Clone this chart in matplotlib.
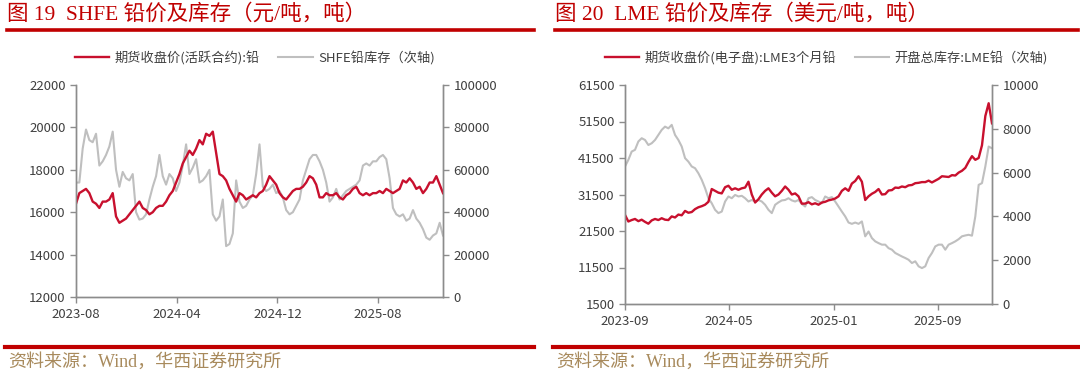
import numpy as np
import pandas as pd
import matplotlib
matplotlib.use('Agg')
import matplotlib.pyplot as plt
import matplotlib.dates as mdates
from matplotlib.lines import Line2D

plt.rcParams['font.family'] = ['Noto Sans CJK SC', 'DejaVu Sans']
plt.rcParams['axes.unicode_minus'] = False

# ---- data: SHFE (left panel) ----
shfe_price = [16400, 16900, 17000, 17100, 16900, 16500, 16400, 16200, 16500, 16500,
              16600, 16900, 15800, 15500, 15600, 15700, 15900, 16100, 16300, 16500,
              16200, 16100, 15900, 16000, 16200, 16300, 16300, 16500, 16800, 17000,
              17400, 17800, 18300, 18600, 18900, 18700, 19000, 19400, 19200, 19700,
              19600, 19800, 18800, 17800, 17700, 17500, 17100, 16800, 16500, 16900,
              16800, 16600, 16700, 16800, 16700, 16900, 17000, 17300, 17700, 17500,
              17300, 16900, 16700, 16600, 16800, 17000, 17100, 17100, 17200, 17400,
              17700, 17600, 17300, 16700, 16700, 16900, 16800, 16800, 16900, 16700,
              16600, 16800, 16900, 17100, 17200, 16900, 16800, 16900, 16800, 16900,
              16900, 17000, 16900, 17100, 17000, 16900, 17000, 17100, 17500, 17400,
              17600, 17400, 17100, 17200, 16900, 17100, 17400, 17400, 17700, 17300,
              16900]
shfe_stock = [54000, 54000, 70000, 79000, 74000, 73000, 77000, 62000, 64000, 67000,
              71000, 78000, 60000, 52000, 59000, 56000, 55000, 58000, 40000, 36500,
              37000, 39000, 46000, 52000, 57000, 67000, 57000, 53000, 58000, 56000,
              50000, 54000, 62000, 72000, 58000, 61000, 65000, 54000, 55000, 57000,
              60000, 39000, 36000, 38000, 46000, 24000, 25000, 30000, 55000, 45000,
              42000, 43000, 46000, 48000, 58000, 72000, 52000, 50000, 51000, 53000,
              49000, 50000, 47000, 41000, 39000, 40000, 43000, 46000, 55000, 60000,
              65000, 67000, 67000, 64000, 60000, 54000, 45000, 47000, 51000, 46000,
              48000, 50000, 51000, 52000, 53000, 55000, 62000, 63000, 62000, 64000,
              64000, 66000, 67000, 65000, 56000, 42000, 39000, 38000, 39000, 36000,
              37000, 41000, 37000, 35000, 32000, 28000, 27000, 29000, 30000, 35000,
              29000]
shfe_ticks = ['2023-08-01', '2024-04-01', '2024-12-01', '2025-08-01']

# ---- data: LME (right panel) ----
lme_price = [25900, 24100, 24500, 24800, 24200, 24600, 24000, 23500, 24400, 24800,
             24500, 25000, 24600, 24500, 25500, 25200, 26000, 25800, 27000, 26500,
             26700, 27500, 28000, 28300, 28700, 29500, 33000, 32500, 32000, 31800,
             33500, 33900, 32800, 33200, 32800, 33200, 33400, 35000, 31500, 29300,
             30200, 31500, 32500, 33200, 32000, 31000, 31500, 32500, 33700, 32800,
             31500, 31800, 31000, 29000, 29000, 29400, 28800, 29100, 28700, 29300,
             29500, 29900, 30100, 30400, 31000, 32500, 33200, 32500, 34500, 35200,
             36500, 35000, 30000, 31000, 31700, 32200, 33000, 31500, 31600, 32600,
             32700, 33400, 33300, 33700, 33500, 34000, 34100, 34600, 34700, 34900,
             34900, 35300, 34800, 35300, 35800, 36500, 36400, 36300, 36800, 36700,
             37500, 38000, 38800, 40500, 42000, 41000, 41500, 45000, 53000, 56500,
             51000]
lme_stock = [6280, 6580, 6960, 7040, 7420, 7570, 7490, 7260, 7340, 7490,
             7720, 7950, 8100, 8020, 8180, 7720, 7490, 7190, 6660, 6500,
             6280, 6200, 5970, 5670, 5290, 4830, 4600, 4300, 4150, 4220,
             4680, 4910, 4830, 4980, 4910, 4940, 4830, 4680, 4750, 4680,
             4750, 4680, 4530, 4300, 4150, 4530, 4640, 4730, 4750, 4830,
             4730, 4680, 4750, 4570, 4450, 4830, 4880, 4750, 4680, 4600,
             4910, 4830, 4880, 4680, 4450, 4220, 4000, 3720, 3660, 3720,
             3660, 3770, 3090, 3310, 3010, 2860, 2780, 2710, 2710, 2550,
             2480, 2330, 2250, 2170, 2100, 2020, 1870, 1950, 1720, 1640,
             1720, 2100, 2330, 2630, 2710, 2710, 2480, 2710, 2780, 2860,
             2960, 3090, 3130, 3160, 3120, 4000, 5440, 5520, 6280, 7190,
             7110]
lme_ticks = ['2023-09-01', '2024-05-01', '2025-01-01', '2025-09-01']

RED = '#C8102E'
GREY = '#BFBFBF'
AX = '#8C8C8C'
TXT = '#404040'
RULE = '#C00000'

fig = plt.figure(figsize=(10.8, 3.73), dpi=100)


def panel(rect, dates, price, stock, ylim, yticks, y2lim, y2ticks, xticks, labels):
    ax = fig.add_axes(rect)
    ax2 = ax.twinx()
    l2, = ax2.plot(dates, stock, color=GREY, lw=1.5, label=labels[1])
    l1, = ax.plot(dates, price, color=RED, lw=1.7, label=labels[0])
    ax.set_zorder(ax2.get_zorder() + 1)
    ax.patch.set_visible(False)
    ax.set_xlim(dates[0], dates[-1])
    ax.set_ylim(*ylim)
    ax.set_yticks(yticks)
    ax2.set_ylim(*y2lim)
    ax2.set_yticks(y2ticks)
    ax.set_xticks(pd.to_datetime(xticks))
    ax.xaxis.set_major_formatter(mdates.DateFormatter('%Y-%m'))
    for a in (ax, ax2):
        a.spines['top'].set_visible(False)
        for s in ('left', 'right', 'bottom'):
            a.spines[s].set_color(AX)
            a.spines[s].set_linewidth(1.0)
        a.tick_params(colors=AX, labelcolor=TXT, labelsize=9.5, length=4, width=1)
    ax.tick_params(axis='x', pad=4)
    return ax, [l1, l2]


shfe_dates = pd.date_range('2023-08-01', '2026-01-06', periods=len(shfe_price))
lme_dates = pd.date_range('2023-09-01', '2026-01-05', periods=len(lme_price))

axL, hL = panel([76 / 1080, 1 - 297 / 373, 367 / 1080, 212 / 373],
                shfe_dates, shfe_price, shfe_stock,
                (12000, 22000), np.arange(12000, 22001, 2000),
                (0, 100000), np.arange(0, 100001, 20000),
                shfe_ticks, ['期货收盘价(活跃合约):铅', 'SHFE铅库存（次轴)'])
axR, hR = panel([625 / 1080, 1 - 304 / 373, 367 / 1080, 219 / 373],
                lme_dates, lme_price, lme_stock,
                (1500, 61500), np.arange(1500, 61501, 10000),
                (0, 10000), np.arange(0, 10001, 2000),
                lme_ticks, ['期货收盘价(电子盘):LME3个月铅', '开盘总库存:LME铅（次轴)'])

for handles, cx in ((hL, 0.236), (hR, 0.765)):
    fig.legend(handles=handles, loc='center', bbox_to_anchor=(cx, 1 - 58 / 373),
               ncol=2, frameon=False, fontsize=9.5, handlelength=2.6,
               columnspacing=1.4, handletextpad=0.4, labelcolor=TXT)

# titles, rules and footers
titles = ['图 19  SHFE 铅价及库存（元/吨，吨）', '图 20  LME 铅价及库存（美元/吨，吨）']
for i, (x0, x1) in enumerate(((7, 534), (555, 1078))):
    fig.text(x0 / 1080, 1 - 14 / 373, titles[i], color=RULE, fontsize=15.5,
             family=['Liberation Serif', 'Noto Sans CJK SC'], va='center', ha='left')
    fig.add_artist(Line2D([x0 / 1080, x1 / 1080], [1 - 30 / 373] * 2, color=RULE, lw=2.6))
    fig.add_artist(Line2D([(x0 - 2) / 1080, x1 / 1080], [1 - 347 / 373] * 2, color=RULE, lw=3))
    fig.text((x0 + 1) / 1080, 1 - 362 / 373, '资料来源：Wind，华西证券研究所', color='#A88A5C',
             fontsize=13, family=['Liberation Serif', 'Noto Sans CJK SC'], va='center', ha='left')

fig.savefig('out.png', dpi=100)
